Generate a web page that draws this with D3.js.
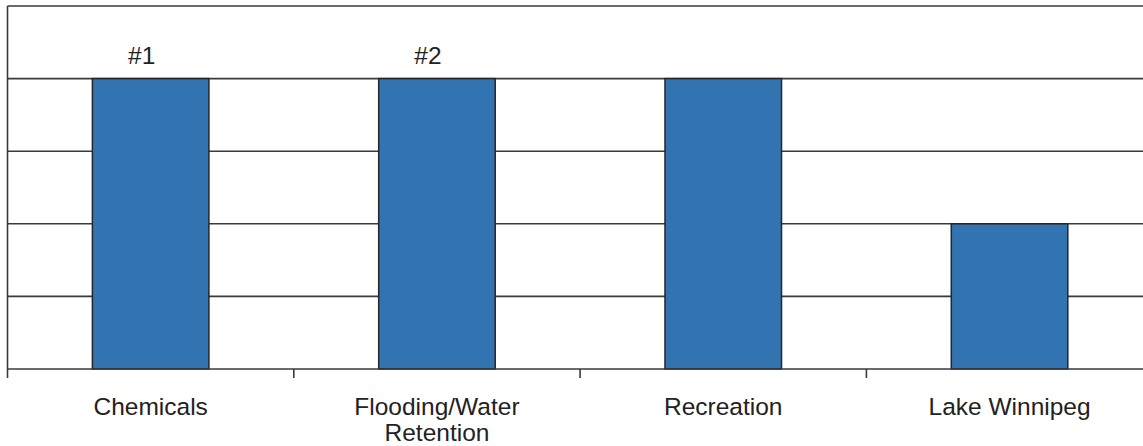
<!DOCTYPE html>
<html>
<head>
<meta charset="utf-8">
<script src="https://cdn.jsdelivr.net/npm/d3@7"></script>
<style>
  html, body { margin: 0; padding: 0; background: #fff; }
  svg { display: block; }
  text { font-family: "Liberation Sans", Arial, sans-serif; fill: #222; }
</style>
</head>
<body>
<svg id="chart" width="1143" height="446"></svg>
<script>
// Ranking of concerns
const categories = ["Chemicals", "Flooding/Water\nRetention", "Recreation", "Lake Winnipeg"];
const values = [4, 4, 4, 2];
const rankLabels = ["#1", "#2", "", ""];
const yTicks = [0, 1, 2, 3, 4, 5];

const svg = d3.select("#chart");
const plotLeft = 7.5, plotRight = 1152.7, plotTop = 6, plotBottom = 369;
const lineColor = "#3a3a3a";

const x = d3.scaleBand()
  .domain(categories)
  .range([plotLeft, plotRight])
  .paddingInner(0.593)
  .paddingOuter(0.593 / 2);

const xTicks = d3.scaleBand().domain(categories).range([plotLeft, plotRight]).padding(0);

const y = d3.scaleLinear().domain([0, 5]).range([plotBottom, plotTop]);

// horizontal gridlines, including the top frame line
svg.append("g")
  .selectAll("line")
  .data(yTicks.filter(d => d > 0))
  .join("line")
  .attr("x1", plotLeft).attr("x2", 1143)
  .attr("y1", d => y(d)).attr("y2", d => y(d))
  .attr("stroke", lineColor).attr("stroke-width", 1.6);

// left axis line
svg.append("line")
  .attr("x1", plotLeft).attr("x2", plotLeft)
  .attr("y1", plotTop).attr("y2", plotBottom + 9)
  .attr("stroke", lineColor).attr("stroke-width", 1.6);

// bars
svg.append("g")
  .selectAll("rect")
  .data(categories)
  .join("rect")
  .attr("x", d => x(d))
  .attr("width", x.bandwidth())
  .attr("y", (d, i) => y(values[i]))
  .attr("height", (d, i) => y(0) - y(values[i]))
  .attr("fill", "#3274b1")
  .attr("stroke", "#262626")
  .attr("stroke-width", 1.5);

// x axis baseline and category ticks
const xAxis = svg.append("g").attr("transform", `translate(0,${plotBottom})`);
xAxis.append("line")
  .attr("x1", plotLeft).attr("x2", 1143)
  .attr("stroke", lineColor).attr("stroke-width", 1.6);
xAxis.selectAll("line.tick")
  .data(categories.slice(1))
  .join("line")
  .attr("class", "tick")
  .attr("x1", d => xTicks(d)).attr("x2", d => xTicks(d))
  .attr("y1", 0).attr("y2", 9)
  .attr("stroke", lineColor).attr("stroke-width", 1.6);

// category labels (multi-line where needed)
xAxis.selectAll("text")
  .data(categories)
  .join("text")
  .attr("text-anchor", "middle")
  .attr("font-size", "24.5px")
  .each(function (d) {
    const t = d3.select(this);
    d.split("\n").forEach((line, k) => {
      t.append("tspan")
        .attr("x", x(d) + x.bandwidth() / 2)
        .attr("y", 46 + k * 26)
        .text(line);
    });
  });

// rank annotations above bars
svg.append("g")
  .selectAll("text")
  .data(categories)
  .join("text")
  .attr("text-anchor", "middle")
  .attr("font-size", "24.5px")
  .attr("x", d => x(d) + x.bandwidth() / 2 - 9)
  .attr("y", (d, i) => y(values[i]) - 15)
  .text((d, i) => rankLabels[i]);
</script>
</body>
</html>
